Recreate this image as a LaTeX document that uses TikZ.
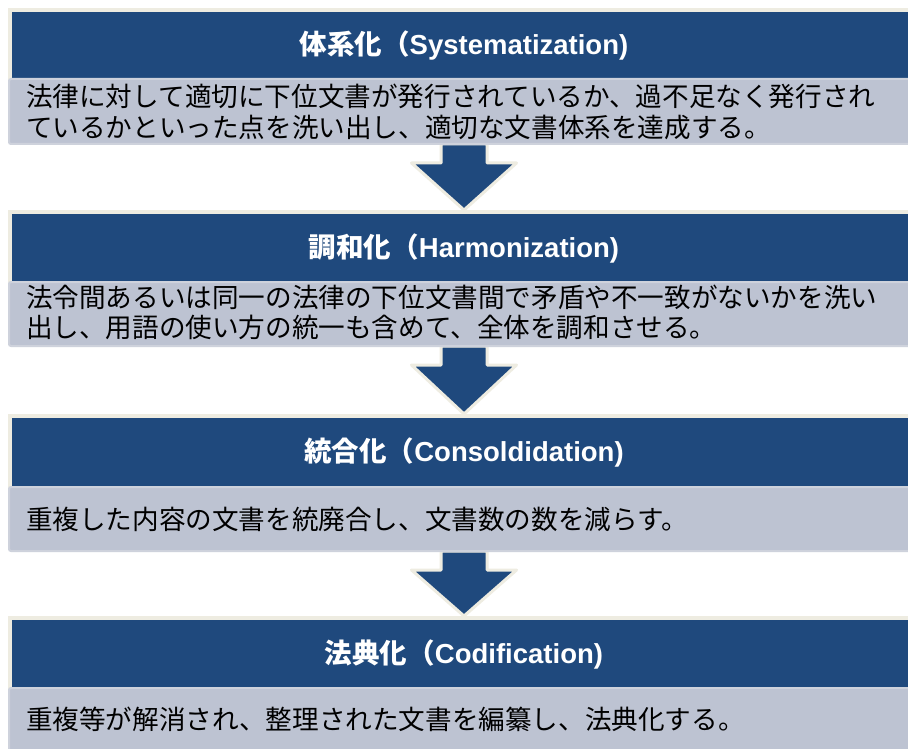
\documentclass[tikz,border=0pt]{standalone}
\usepackage{fontspec}
\setmainfont{Liberation Sans}
\newfontfamily\jp{Noto Sans CJK JP}
\usetikzlibrary{calc,backgrounds}
\definecolor{hblue}{HTML}{1F497D}
\definecolor{cream}{HTML}{EEECE1}
\definecolor{bodyfill}{HTML}{BDC3D2}
\definecolor{bodyline}{HTML}{CED2DC}
\tikzset{
  hdr/.style={rectangle, fill=hblue, draw=cream, line width=4pt, minimum width=908pt, inner sep=0pt,
    text=white, font=\fontsize{27.5pt}{30pt}\selectfont\bfseries},
  bodybox/.style={rectangle, fill=bodyfill, draw=bodyline, line width=2pt, rounded corners=2pt,
    minimum width=910pt, inner sep=0pt},
  bodytext/.style={anchor=west, inner sep=0pt, align=left, text=black,
    font=\jp\fontsize{26.6pt}{30.5pt}\selectfont},
  downarrow/.style={fill=hblue, draw=cream, line width=3pt, line join=round}
}
\begin{document}
\begin{tikzpicture}[x=1pt,y=-1pt]
\useasboundingbox (0,0) rectangle (908,749);
\clip (0,0) rectangle (908,749);

% header boxes
\node[hdr, minimum height=71pt] (h1) at (464,45.5) {{\jp 体系化（}Systematization)};
\node[hdr, minimum height=72pt] (h2) at (464,248) {{\jp 調和化（}Harmonization)};
\node[hdr, minimum height=73pt] (h3) at (464,452.5) {{\jp 統合化（}Consoldidation)};
\node[hdr, minimum height=72pt] (h4) at (464,654) {{\jp 法典化（}Codification)};

% body boxes (overlapping the header bottoms)
\node[bodybox, minimum height=65pt] (b1) at (464,111.5) {};
\node[bodybox, minimum height=64pt] (b2) at (464,314) {};
\node[bodybox, minimum height=64pt] (b3) at (464,519) {};
\node[bodybox, minimum height=64pt] (b4) at (464,720) {};

% body texts
\node[bodytext] (t1) at (26,112) {法律に対して適切に下位文書が発行されているか、過不足なく発行され\\ているかといった点を洗い出し、適切な文書体系を達成する。};
\node[bodytext] (t2) at (26,312.5) {法令間あるいは同一の法律の下位文書間で矛盾や不一致がないかを洗い\\出し、用語の使い方の統一も含めて、全体を調和させる。};
\node[bodytext] (t3) at (26,519) {重複した内容の文書を統廃合し、文書数の数を減らす。};
\node[bodytext] (t4) at (26,719) {重複等が解消され、整理された文書を編纂し、法典化する。};

% block arrows between stages, beneath the boxes
\begin{pgfonlayer}{background}
\fill[white] (0,0) rectangle (908,749);
\foreach \b/\h in {b1/h2, b2/h3, b3/h4}{
  \draw[downarrow]
    ($(\b.south)+(-23,-1)$) -- ($(\b.south)+(-23,18)$) -- ($(\b.south)+(-52.5,18)$)
    -- (\h.north)
    -- ($(\b.south)+(52.5,18)$) -- ($(\b.south)+(23,18)$) -- ($(\b.south)+(23,-1)$) -- cycle;
}
\end{pgfonlayer}
\end{tikzpicture}
\end{document}
